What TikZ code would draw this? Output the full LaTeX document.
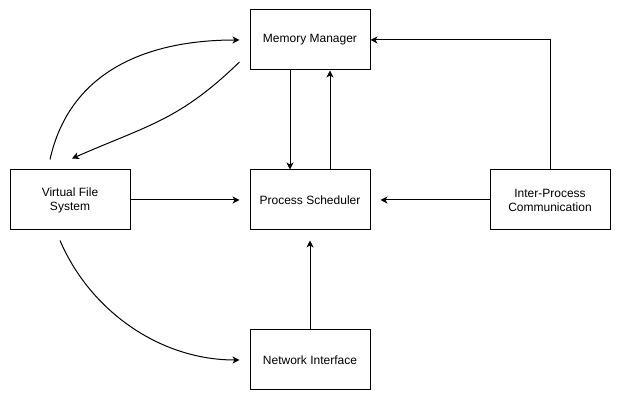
\documentclass[tikz,border=0pt]{standalone}
\usepackage{fontspec}
\setmainfont{Liberation Sans}
\usetikzlibrary{arrows.meta,calc}

\begin{document}
\begin{tikzpicture}[x=1pt,y=1pt,
	block/.style={shape=rectangle,draw=black,line width=1pt,minimum width=120pt,minimum height=60pt,align=center,font=\fontsize{12}{14}\selectfont},
	link/.style={line width=1pt,-{Stealth[length=7pt,width=7pt,inset=2pt]}}]
	\useasboundingbox (0,0) rectangle (621,401);

	\node[block] (mm)  at (310, 361) {Memory Manager};
	\node[block] (ps)  at (310, 201) {Process Scheduler};
	\node[block] (vfs) at (70, 201)  {Virtual File\\System};
	\node[block] (ipc) at (550, 201) {Inter-Process\\Communication};
	\node[block] (ni)  at (310, 41)  {Network Interface};

	\path[link] ([xshift=-20pt]mm.south) edge ([xshift=-20pt]ps.north);
	\path[link] ([xshift=20pt]ps.north) edge ([xshift=20pt]mm.south);
	\path[link,shorten >=10pt] (vfs.east) edge (ps.west);
	\path[link,shorten >=10pt] (ipc.west) edge (ps.east);
	\path[link,shorten >=10pt] (ni.north) edge (ps.south);
	\draw[link] (ipc.north) |- (mm.east);

	\draw[link,shorten >=10pt] ($(vfs.north)+(-20,10)$) .. controls +(20,90) and +(-100,0) .. (mm.west);
	\draw[link] ($(mm.west)+(-10,-22)$) .. controls +(-60,-58) and +(78,34) .. ($(vfs.north)+(2,11)$);
	\draw[link,shorten >=10pt] ($(vfs.south)+(-10,-10)$) .. controls +(30,-70) and +(-90,0) .. (ni.west);
\end{tikzpicture}
\end{document}
